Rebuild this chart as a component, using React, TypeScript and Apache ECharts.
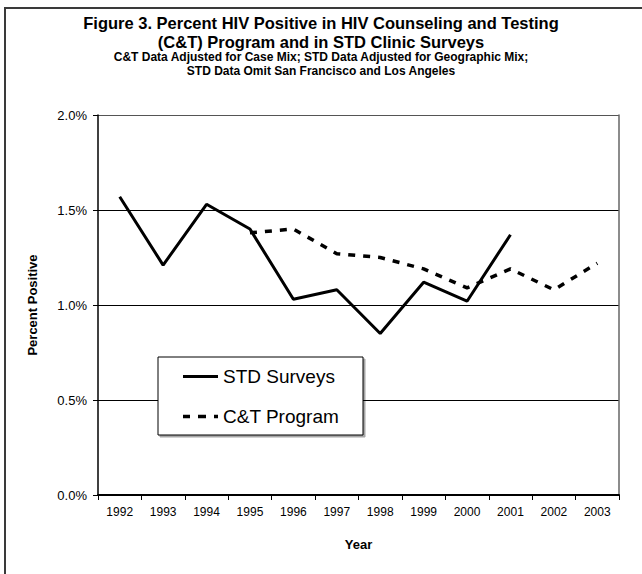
import React, { useEffect, useRef } from 'react';
import * as echarts from 'echarts';

const years = ['1992', '1993', '1994', '1995', '1996', '1997', '1998', '1999', '2000', '2001', '2002', '2003'];
const stdSurveys = [1.57, 1.21, 1.53, 1.4, 1.03, 1.08, 0.85, 1.12, 1.02, 1.37, null, null];
const ctProgram = [null, null, null, 1.38, 1.4, 1.27, 1.25, 1.19, 1.09, 1.19, 1.08, 1.22];
const titleLines = ['Figure 3. Percent HIV Positive in HIV Counseling and Testing', '(C&T) Program and in STD Clinic Surveys'];
const subtitleLines = ['C&T Data Adjusted for Case Mix; STD Data Adjusted for Geographic Mix;', 'STD Data Omit San Francisco and Los Angeles'];

const FONT = '"Liberation Sans", Arial, sans-serif';

// legend icons: 35x14 box, tiny corner specks fix the bounding box
const SOLID_ICON = 'path://M0,0h0.01v0.01h-0.01z M0,5.5h35v3h-35z M34.99,13.99h0.01v0.01h-0.01z';
const DASH_ICON = 'path://M0,0h0.01v0.01h-0.01z M0,5.3h7v3.4h-7z M15,5.3h8v3.4h-8z M31,5.3h4v3.4h-4z M34.99,13.99h0.01v0.01h-0.01z';

export default function App() {
  const ref = useRef<HTMLDivElement>(null);
  useEffect(() => {
    if (!ref.current) return;
    const chart = echarts.init(ref.current, null, { renderer: 'svg' });
    chart.setOption({
      animation: false,
      backgroundColor: '#fff',
      textStyle: { fontFamily: FONT },
      grid: { left: 98, right: 23, top: 115, bottom: 79, containLabel: false },
      legend: {
        orient: 'vertical',
        left: 183,
        top: 367,
        padding: 0,
        itemGap: 21,
        itemWidth: 35,
        itemHeight: 14,
        z: 6,
        textStyle: { fontSize: 19, color: '#000', fontFamily: FONT },
        data: [
          { name: 'STD Surveys', icon: SOLID_ICON, itemStyle: { color: '#000', borderWidth: 0 } },
          { name: 'C&T Program', icon: DASH_ICON, itemStyle: { color: '#000', borderWidth: 0 } },
        ],
      },
      xAxis: {
        type: 'category',
        data: years,
        boundaryGap: true,
        name: 'Year',
        nameLocation: 'middle',
        nameGap: 43,
        nameTextStyle: { fontSize: 13, fontWeight: 'bold', color: '#000', fontFamily: FONT },
        axisLine: { lineStyle: { color: '#000', width: 2 } },
        axisTick: { show: true, interval: 0, length: 5, lineStyle: { color: '#000' } },
        axisLabel: { interval: 0, fontSize: 12, color: '#000', margin: 11, fontFamily: FONT },
        splitLine: { show: false },
      },
      yAxis: [
        {
          type: 'value',
          min: 0,
          max: 2,
          interval: 0.5,
          name: 'Percent Positive',
          nameLocation: 'middle',
          nameGap: 59,
          nameRotate: 90,
          nameTextStyle: { fontSize: 13, fontWeight: 'bold', color: '#000', fontFamily: FONT },
          axisLine: { show: true, lineStyle: { color: '#000', width: 1.5 } },
          axisTick: { show: true, length: 5, lineStyle: { color: '#000' } },
          axisLabel: {
            fontSize: 13,
            color: '#000',
            margin: 11,
            fontFamily: FONT,
            formatter: (v: number) => v.toFixed(1) + '%',
          },
          splitLine: { show: true, lineStyle: { color: ['#000', '#000', '#000', '#000', '#555'], width: 1 } },
        },
        {
          type: 'value',
          min: 0,
          max: 2,
          interval: 0.5,
          position: 'right',
          axisLine: { show: true, lineStyle: { color: '#666', width: 1.5 } },
          axisTick: { show: false },
          axisLabel: { show: false },
          splitLine: { show: false },
        },
      ],
      series: [
        {
          name: 'STD Surveys',
          type: 'line',
          data: stdSurveys,
          symbol: 'none',
          connectNulls: false,
          lineStyle: { color: '#000', width: 3 },
          itemStyle: { color: '#000' },
          z: 3,
        },
        {
          name: 'C&T Program',
          type: 'line',
          data: ctProgram,
          symbol: 'none',
          lineStyle: { color: '#000', width: 3.5, type: [7, 8] },
          itemStyle: { color: '#000' },
          z: 2,
        },
      ],
      graphic: [
        {
          type: 'rect',
          z: 5,
          shape: { x: 158, y: 357, width: 205, height: 78 },
          style: { fill: '#fff', stroke: '#000', lineWidth: 1, shadowColor: 'rgba(0,0,0,0.35)', shadowOffsetX: 2, shadowOffsetY: 2, shadowBlur: 1 },
        },
        {
          type: 'rect',
          z: 10,
          shape: { x: 5, y: 8, width: 700, height: 700 },
          style: { fill: 'none', stroke: '#3a3a3a', lineWidth: 2 },
        },
        {
          type: 'text',
          z: 10,
          x: 321,
          y: 23,
          style: { text: titleLines[0], fontSize: 16.5, fontWeight: 'bold', fill: '#000', align: 'center', verticalAlign: 'middle', fontFamily: FONT },
        },
        {
          type: 'text',
          z: 10,
          x: 321,
          y: 42,
          style: { text: titleLines[1], fontSize: 16.5, fontWeight: 'bold', fill: '#000', align: 'center', verticalAlign: 'middle', fontFamily: FONT },
        },
        {
          type: 'text',
          z: 10,
          x: 321,
          y: 57,
          style: { text: subtitleLines[0], fontSize: 12, fontWeight: 'bold', fill: '#000', align: 'center', verticalAlign: 'middle', fontFamily: FONT },
        },
        {
          type: 'text',
          z: 10,
          x: 321,
          y: 71,
          style: { text: subtitleLines[1], fontSize: 12, fontWeight: 'bold', fill: '#000', align: 'center', verticalAlign: 'middle', fontFamily: FONT },
        },
      ],
    });
    return () => chart.dispose();
  }, []);
  return (
    <div
      ref={ref}
      style={{ position: 'absolute', left: 0, top: 0, width: 642, height: 574, background: '#fff' }}
    />
  );
}
